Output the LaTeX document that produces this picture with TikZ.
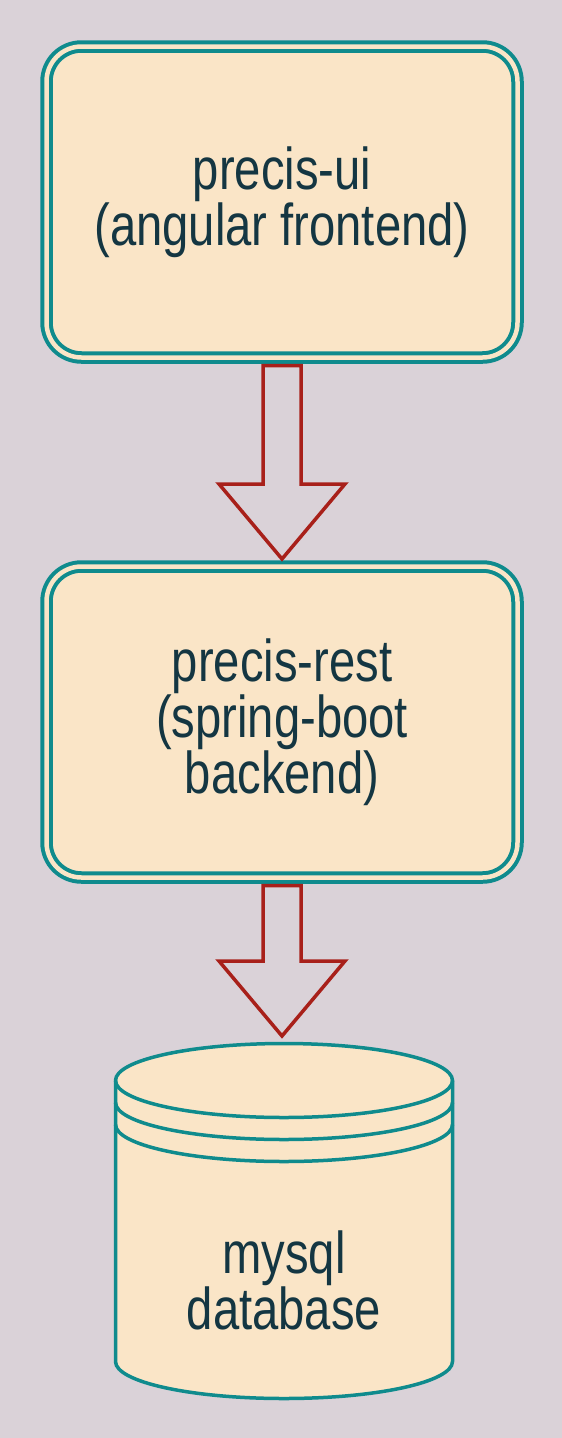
\documentclass[tikz,border=0pt]{standalone}
\usepackage{fontspec}
\setmainfont{Liberation Sans}[FakeStretch = 0.8]
\usetikzlibrary{positioning,calc}

\definecolor{bgcol}{HTML}{DAD2D8}
\definecolor{boxfill}{HTML}{FAE5C7}
\definecolor{boxline}{HTML}{0F8B8D}
\definecolor{arrowred}{HTML}{A8201A}
\definecolor{textcol}{HTML}{143642}

% hollow block arrow from a start anchor down to a tip anchor
\newcommand{\bigarrow}[2]{%
  \draw[bigarr] let \p1 = (#1), \p2 = (#2) in
    (\x1-19pt,\y1-8pt) -- (\x1+19pt,\y1-8pt) -- (\x1+19pt,\y2+82.5pt)
    -- (\x1+63pt,\y2+82.5pt) -- (\x1,\y2+7.5pt) -- (\x1-63pt,\y2+82.5pt)
    -- (\x1-19pt,\y2+82.5pt) -- cycle;}

\begin{document}
\begin{tikzpicture}
    [x = 1pt, y = 1pt, node distance = 520pt, on grid,
     box/.style = {draw = boxline, line width = 4pt, double = boxfill,
       double distance = 4.5pt, fill = boxfill, rounded corners = 35pt,
       minimum width = 471pt, minimum height = 311pt, inner sep = 0pt,
       outer sep = 0pt, align = center, text = textcol,
       font = \fontsize{59}{56}\selectfont},
     dbtext/.style = {inner sep = 0pt, align = center, text = textcol,
       font = \fontsize{59}{56}\selectfont},
     bigarr/.style = {draw = arrowred, line width = 3.5pt, fill = bgcol}]
\fill[bgcol] (0,0) rectangle (562,-1438);

\node[box](ui) at (282,-202) {precis-ui\\(angular frontend)};
\node[box](rest)[below = of ui]{precis-rest\\(spring-boot\\backend)};
\coordinate[below right = 558pt and 2pt of rest] (dbc);

% database cylinder
\begin{scope}[shift = {(dbc)}, color = boxline, line width = 3.5pt]
  \filldraw[fill = boxfill] (-168.5,199.5) -- (-168.5,-81.5)
    arc[start angle = 180, end angle = 360, x radius = 168.5, y radius = 37]
    -- (168.5,199.5)
    arc[start angle = 0, end angle = 180, x radius = 168.5, y radius = 37] -- cycle;
  \foreach \h in {199.5,177.5,155.5}
    \draw (-168.5,\h) arc[start angle = 180, end angle = 360, x radius = 168.5, y radius = 37];
  \coordinate (dbtop) at (0,236.5);
\end{scope}
\node[dbtext](db) at (dbc) {mysql\\database};

\bigarrow{ui.south}{rest.north}
\bigarrow{rest.south}{dbtop}
\end{tikzpicture}
\end{document}
